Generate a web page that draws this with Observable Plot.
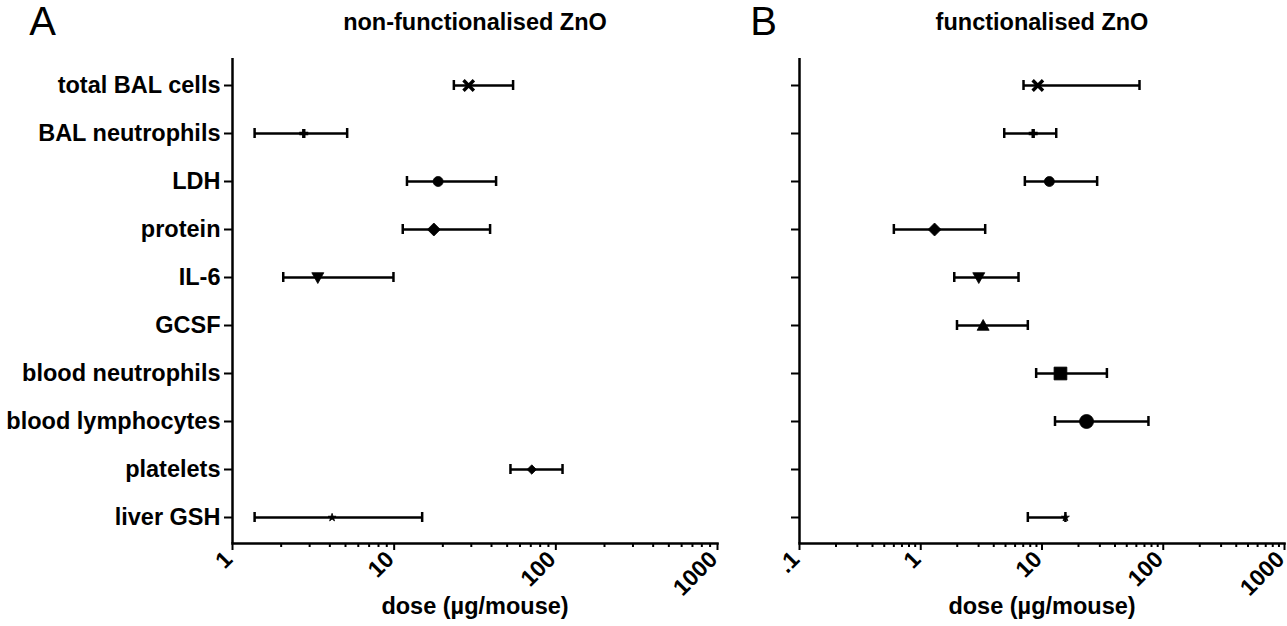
<!DOCTYPE html>
<html>
<head>
<meta charset="utf-8">
<script src="https://cdn.jsdelivr.net/npm/d3@7"></script>
<script src="https://cdn.jsdelivr.net/npm/@observablehq/plot@0.6"></script>
<style>
  html, body { margin: 0; padding: 0; background: #fff; }
  #wrap { position: relative; width: 1287px; height: 626px; }
  #wrap svg { position: absolute; top: 0; overflow: visible; }
</style>
</head>
<body>
<div id="wrap"></div>
<script>
// ---- data ----
const categories = ["total BAL cells", "BAL neutrophils", "LDH", "protein", "IL-6", "GCSF",
  "blood neutrophils", "blood lymphocytes", "platelets", "liver GSH"];
// panel A: non-functionalised ZnO (dose, µg/mouse)
const aMid  = [28.9, 2.76, 18.7, 17.6, 3.37, null, null, null, 71, 4.13];
const aLow  = [23.4, 1.37, 12.0, 11.3, 2.06, null, null, null, 52.4, 1.37];
const aHigh = [54.4, 5.12, 42.7, 39.2, 9.9, null, null, null, 110, 14.9];
// panel B: functionalised ZnO
const bMid  = [9.24, 8.46, 11.5, 1.30, 3.01, 3.27, 14.2, 23.3, null, 15.6];
const bLow  = [7.04, 4.88, 7.22, 0.60, 1.89, 1.99, 8.95, 12.8, null, 7.64];
const bHigh = [63.7, 13.1, 28.5, 3.40, 6.40, 7.64, 34.3, 75.5, null, 15.6];
// marker per category
const markerNames = ["times", "plus", "circle", "diamond", "triangleDown", "triangleUp",
  "square", "circle", "diamond", "star"];
const markerR = [4.8, 3, 5, 6.5, 6, 6, 6.4, 7, 4.7, 2.5];
const aTicks = [1, 10, 100, 1000];
const aTickLabels = ["1", "10", "100", "1000"];
const bTicks = [0.1, 1, 10, 100, 1000];
const bTickLabels = [".1", "1", "10", "100", "1000"];

// ---- custom symbols ----
const rad = (size) => Math.sqrt(size / Math.PI);
const symbols = {
  times: "times",
  plus: "plus",
  star: "star",
  circle: "circle",
  diamond: {draw(c, size) { const r = rad(size); c.moveTo(0, -r); c.lineTo(r, 0); c.lineTo(0, r); c.lineTo(-r, 0); c.closePath(); }},
  triangleDown: {draw(c, size) { const r = rad(size); c.moveTo(-r, -0.8 * r); c.lineTo(r, -0.8 * r); c.lineTo(0, r); c.closePath(); }},
  triangleUp: {draw(c, size) { const r = rad(size); c.moveTo(-r, 0.8 * r); c.lineTo(r, 0.8 * r); c.lineTo(0, -r); c.closePath(); }},
  square: {draw(c, size) { const r = rad(size); c.rect(-r, -r, 2 * r, 2 * r); }}
};
const strokeSymbols = new Set(["times", "plus"]);

function rows(mid, low, high) {
  return categories.map((c, i) => ({cat: c, mid: mid[i], low: low[i], high: high[i], i}))
    .filter(d => d.mid != null);
}

function panel({data, domain, ticks, tickLabels, width, marginLeft, marginRight, title, letter, showLabels}) {
  const minor = d3.scaleLog().domain(domain).ticks().filter(t => !ticks.includes(t));
  const markers = data.map(d => {
    const name = markerNames[d.i];
    const isStroke = strokeSymbols.has(name);
    return Plot.dot([d], {
      x: "mid", y: "cat", r: markerR[d.i], symbol: symbols[name],
      fill: isStroke ? "none" : "black",
      stroke: "black",
      strokeWidth: isStroke ? 3.4 : 0.8
    });
  });
  return Plot.plot({
    width, height: 626,
    marginLeft, marginRight, marginTop: 58, marginBottom: 83,
    style: {fontFamily: "'Liberation Sans', Arial, sans-serif", fontSize: "23px", fontWeight: "bold", color: "black", background: "white", overflow: "visible"},
    x: {type: "log", domain, label: null},
    y: {type: "band", domain: categories, padding: 0, label: null},
    marks: [
      Plot.axisY({tickSize: 8, tickPadding: 4, fontSize: 23.5, strokeWidth: 2,
        tickFormat: showLabels ? (d => d) : (() => "")}),
      // major tick marks
      Plot.axisX({ticks, tickSize: 7, strokeWidth: 2, tickFormat: () => "", label: null}),
      // major tick labels, rotated
      Plot.axisX({ticks, tickSize: 0, tickRotate: -45, tickPadding: 12, fontSize: 23,
        dx: -4, tickFormat: (d) => tickLabels[ticks.indexOf(d)], label: null}),
      // minor tick marks
      Plot.axisX({ticks: minor, tickSize: 4, strokeWidth: 2, tickFormat: () => "", label: null}),
      Plot.ruleX([domain[0]], {strokeWidth: 2.5}),
      Plot.frame({anchor: "bottom", strokeWidth: 2.5}),
      Plot.ruleY(data, {y: "cat", x1: "low", x2: "high", strokeWidth: 2.5}),
      Plot.tickX(data, {x: "low", y: "cat", insetTop: 19, insetBottom: 19, strokeWidth: 2.5}),
      Plot.tickX(data, {x: "high", y: "cat", insetTop: 19, insetBottom: 19, strokeWidth: 2.5}),
      ...markers,
      Plot.text([title], {frameAnchor: "top", lineAnchor: "middle", dy: -36, fontSize: 23.5, fontWeight: "bold"}),
      Plot.text(["dose (µg/mouse)"], {frameAnchor: "bottom", lineAnchor: "middle", dy: 63, fontSize: 23.5, fontWeight: "bold"}),
      Plot.text([letter.text], {frameAnchor: "top-left", lineAnchor: "middle", dx: letter.dx, dy: -36, fontSize: 40,
        fontWeight: "normal", textAnchor: "middle"})
    ]
  });
}

const svgA = panel({
  data: rows(aMid, aLow, aHigh), domain: [1, 1000], ticks: aTicks, tickLabels: aTickLabels,
  width: 760, marginLeft: 232, marginRight: 43, title: "non-functionalised ZnO",
  letter: {text: "A", dx: -190}, showLabels: true
});
const svgB = panel({
  data: rows(bMid, bLow, bHigh), domain: [0.1, 1000], ticks: bTicks, tickLabels: bTickLabels,
  width: 527, marginLeft: 39, marginRight: 3, title: "functionalised ZnO",
  letter: {text: "B", dx: -36}, showLabels: false
});
svgA.style.left = "0px";
svgB.style.left = "760px";
const wrap = document.getElementById("wrap");
wrap.append(svgA, svgB);
</script>
</body>
</html>
